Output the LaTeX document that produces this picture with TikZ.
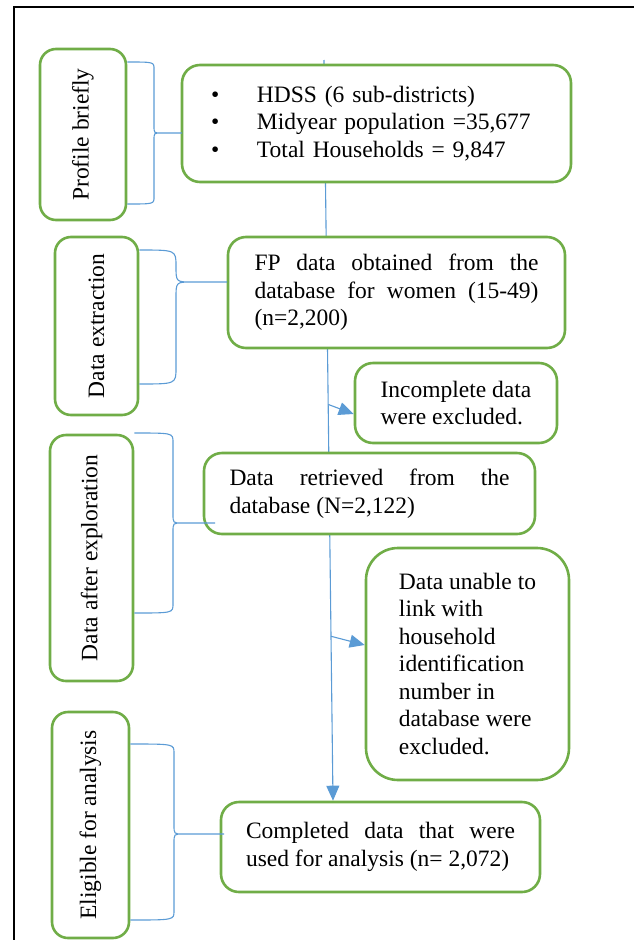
\documentclass[tikz,border=0pt]{standalone}
\usepackage{graphicx}
\usepackage{fontspec}
\setmainfont{Liberation Serif}
\usetikzlibrary{arrows.meta,calc,backgrounds}
\usepackage{xcolor}
\definecolor{Leaf}{HTML}{70AD47}
\definecolor{Sky}{HTML}{5B9BD5}
\definecolor{Ink}{HTML}{000000}
\tikzset{
 box/.style={draw=Leaf, line width=2.6pt, rounded corners=18pt, fill=white, align=center, inner sep=0pt},
 sidebox/.style={box, rounded corners=16pt},
 mainbox/.style={box, align=justify},
 listbox/.style={box, align=left},
 roundbox/.style={box, align=left, rounded corners=32pt},
 flow/.style={-{Triangle[length=15pt,width=13pt]}, draw=Sky, line width=1.1pt},
 bracket/.style={draw=Sky, line width=1.1pt},
 frameline/.style={draw=Ink, line width=2.4pt}
}
\newcommand{\dotitem}{\makebox[46pt][l]{\textbullet}}
\newcommand{\sidebrace}[7]{%
  \draw[bracket] (#1.east |- 0,#3) .. controls (#2,#3) .. (#2,#3+#7)
    -- (#2,#4-#7) .. controls (#2,#4) .. (#2+#7,#4) -- (#6,#4)
    (#2+#7,#4) .. controls (#2,#4) .. (#2,#4+#7)
    -- (#2,#5-#7) .. controls (#2,#5) .. (#1.east |- 0,#5);}

\begin{document}
\begin{tikzpicture}[x=1pt,y=-1pt,font=\fontsize{23.5}{27.5}\selectfont]
\useasboundingbox (0,0) rectangle (634,940);
\draw[frameline] (14,940) -- (14,7) -- (634,7);

\node[sidebox, minimum width=86pt, minimum height=171pt] (prof) at (83,134.5) {\rotatebox{90}{Profile briefly}};
\node[sidebox, minimum width=83pt, minimum height=178pt] (extr) at (96.5,326) {\rotatebox{90}{Data extraction}};
\node[sidebox, minimum width=83pt, minimum height=246pt] (expl) at (91.5,558) {\rotatebox{90}{Data after exploration}};
\node[sidebox, minimum width=77pt, minimum height=226pt] (elig) at (90.5,825) {\rotatebox{90}{Eligible for analysis}};

\node[listbox, text width=331pt, minimum width=389pt, minimum height=117pt] (hdss) at (376.5,123.5)
  {\dotitem HDSS (6 sub-districts)\\ \dotitem Midyear population =35,677\\ \dotitem Total Households = 9,847};
\node[mainbox, text width=284pt, minimum width=337pt, minimum height=111pt] (fp) at (396.5,292.5)
  {FP data obtained from the\linebreak database for women (15-49)\linebreak (n=2,200)};
\node[listbox, minimum width=202pt, minimum height=80pt] (inc) at (456,403)
  {Incomplete data\\ were excluded.};
\node[mainbox, text width=280pt, minimum width=331pt, minimum height=81pt] (ret) at (369.5,493.5)
  {Data retrieved from the\linebreak database (N=2,122)};
\node[roundbox, minimum width=203pt, minimum height=232pt] (unab) at (467.5,664)
  {Data unable to\\ link with\\ household\\ identification\\ number in\\ database were\\ excluded.};
\node[mainbox, text width=269pt, minimum width=319pt, minimum height=90pt] (comp) at (380.5,847)
  {Completed data that were\linebreak used for analysis (n= 2,072)};

\coordinate (flowtop) at (324,60);
\coordinate (flowend) at (comp.north -| 333,0);
\begin{scope}[on background layer]
\draw[flow] (flowtop) -- (flowend);
\end{scope}
\draw[flow] ($(flowtop)!0.465!(flowend)$) -- (inc.west |- 0,414);
\draw[flow] ($(flowtop)!0.778!(flowend)$) -- (unab.west |- 0,645);

\sidebrace{prof}{154}{62}{133}{204}{182}{7}
\sidebrace{extr}{176}{250}{282}{384}{227}{16}
\sidebrace{expl}{173}{433}{523}{613}{215}{9}
\sidebrace{elig}{174}{744}{834}{920}{224}{9}
\end{tikzpicture}
\end{document}
